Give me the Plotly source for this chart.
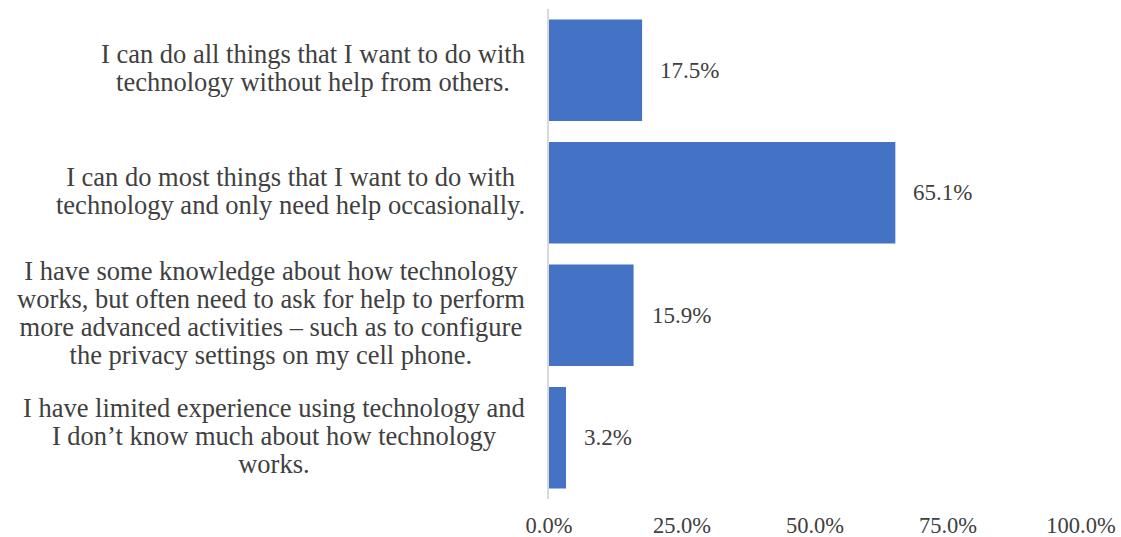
import plotly.graph_objects as go

# Self-rated technology proficiency (share of respondents)
categories = [
    "I can do all things that I want to do with technology without help from others.",
    "I can do most things that I want to do with technology and only need help occasionally.",
    "I have some knowledge about how technology works, but often need to ask for help to perform more advanced activities – such as to configure the privacy settings on my cell phone.",
    "I have limited experience using technology and I don’t know much about how technology works.",
]
category_lines = [
    ["I can do all things that I want to do with",
     "technology without help from others."],
    ["I can do most things that I want to do with",
     "technology and only need help occasionally."],
    ["I have some knowledge about how technology",
     "works, but often need to ask for help to perform",
     "more advanced activities – such as to configure",
     "the privacy settings on my cell phone."],
    ["I have limited experience using technology and",
     "I don’t know much about how technology",
     "works."],
]
shares = [0.175, 0.651, 0.159, 0.032]
tick_values = [0, 0.25, 0.5, 0.75, 1.0]
tick_labels = ["0.0%", "25.0%", "50.0%", "75.0%", "100.0%"]

FONT = "Liberation Serif, Times New Roman, serif"
TEXT = "#404040"
LABEL_SIZE = 26.5      # glyph size of the category labels
LINE_PITCH = 28        # distance between wrapped lines, px

fig = go.Figure(
    go.Bar(
        x=shares,
        y=categories,
        orientation="h",
        marker=dict(color="#4472C4", line=dict(width=0)),
        hoverinfo="skip",
    )
)

annotations = []
# Category labels: block right-aligned against the axis, lines centred.
# Line spacing follows the annotation's base font size (1.3 em per line),
# while the glyphs themselves are drawn at LABEL_SIZE via an inline span.
for cat, lines in zip(categories, category_lines):
    body = "<br>".join(
        f"<span style='font-size:{LABEL_SIZE}px'>{ln}</span>" for ln in lines
    )
    annotations.append(dict(
        x=0, y=cat, xref="x", yref="y",
        text=body, showarrow=False,
        xanchor="right", yanchor="middle", align="center",
        xshift=-22, yshift=2,
        font=dict(family=FONT, size=LINE_PITCH / 1.3, color=TEXT),
    ))
# Value labels to the right of each bar
for cat, v in zip(categories, shares):
    annotations.append(dict(
        x=v, y=cat, xref="x", yref="y",
        text=f"{v * 100:.1f}%", showarrow=False,
        xanchor="left", yanchor="middle",
        xshift=16,
        font=dict(family=FONT, size=23, color=TEXT),
    ))

fig.update_layout(
    width=1121, height=537,
    margin=dict(l=549, r=40, t=9, b=38, autoexpand=False),
    paper_bgcolor="white", plot_bgcolor="white",
    bargap=0.17,
    showlegend=False,
    annotations=annotations,
    font=dict(family=FONT, size=22, color=TEXT),
)
fig.update_xaxes(
    range=[0, 1.0],
    tickvals=tick_values, ticktext=tick_labels,
    showgrid=False, zeroline=False, showline=False,
    ticks="outside", ticklen=0, ticklabelstandoff=6,
    automargin=False,
    tickfont=dict(family=FONT, size=22.5, color=TEXT),
)
fig.update_yaxes(
    range=[len(categories) - 0.5, -0.5],
    showticklabels=False,
    showgrid=False, zeroline=False,
    showline=True, linecolor="#d9d9d9", linewidth=2,
    automargin=False,
)

fig.write_html("out.html")
